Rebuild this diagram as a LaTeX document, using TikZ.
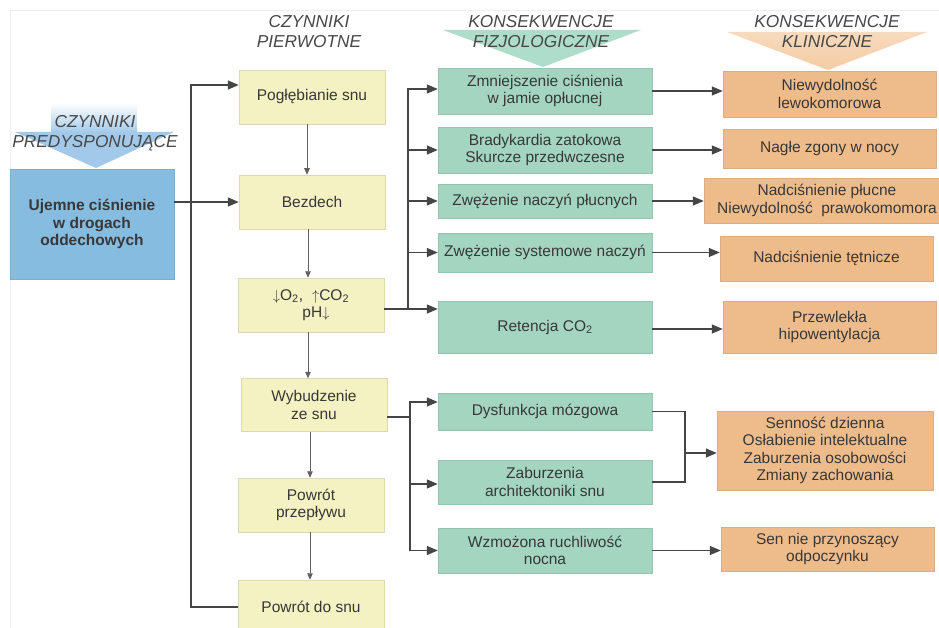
\documentclass[tikz,border=0pt]{standalone}
\usepackage{fontspec}
\setmainfont{Liberation Sans}
\usetikzlibrary{arrows.meta}
\definecolor{bluebox}{HTML}{86BCE0}
\definecolor{bluehdr}{HTML}{A2C9E9}
\definecolor{yel}{HTML}{F4F1C2}
\definecolor{grn}{HTML}{A3D5C1}
\definecolor{grnhdr}{HTML}{AEDDCB}
\definecolor{org}{HTML}{EEBC8B}
\definecolor{orghdr}{HTML}{F4CBA2}
\definecolor{txt}{HTML}{383838}
\definecolor{hdrtxt}{HTML}{484848}
\definecolor{linec}{HTML}{454545}
\definecolor{framec}{HTML}{EEEEEE}
\begin{document}
\begin{tikzpicture}[x=1pt,y=-1pt,
  box/.style={rectangle, inner sep=0pt, align=center, line width=0.5pt, text=txt,
    font=\fontsize{15.5}{17.5}\selectfont},
  bbox/.style={box, fill=bluebox, draw=bluebox!92!black,
    font=\fontsize{15.5}{17.5}\selectfont\bfseries},
  ybox/.style={box, fill=yel, draw=yel!90!black},
  gbox/.style={box, fill=grn, draw=grn!92!black},
  obox/.style={box, fill=org, draw=org!92!black},
  hdr/.style={inner sep=0pt, align=center, text=hdrtxt,
    font=\fontsize{17.3}{20}\selectfont\itshape},
  line/.style={draw=linec, line width=1.3pt},
  arr/.style={line, -{Triangle[length=11pt,width=9pt]}},
  sarr/.style={draw=linec!85, line width=0.9pt, -{Triangle[length=6.5pt,width=5.5pt]}}
]
\clip (0,0) rectangle (939,628);
\fill[white] (0,0) rectangle (939,628);
\draw[framec, line width=0.8pt] (10,628) -- (10,10) -- (939,10);

% header arrows
\shade[top color=white, bottom color=bluehdr] (51,103) rectangle (137,133);
\fill[bluehdr] (15,132) -- (174,132) -- (96,168) -- cycle;
\fill[grnhdr] (443,30) -- (641,30) -- (543,67) -- cycle;
\shade[top color=orghdr!70, bottom color=orghdr] (727,32) -- (927,32) -- (828,70) -- cycle;

\node[hdr] (h1) at (95,133) {CZYNNIKI\\PREDYSPONUJĄCE};
\node[hdr] (h2) at (309,32) {CZYNNIKI\\PIERWOTNE};
\node[hdr] (h3) at (541,32) {KONSEKWENCJE\\FIZJOLOGICZNE};
\node[hdr] (h4) at (827,31.5) {KONSEKWENCJE\\KLINICZNE};

% blue box
\node[bbox, minimum width=164pt, minimum height=110pt] (uj) at (92,224)
  {Ujemne ciśnienie\\w drogach\\oddechowych};

% yellow column
\node[ybox, minimum width=146pt, minimum height=54pt] (pog) at (312,97) {Pogłębianie snu};
\node[ybox, minimum width=146pt, minimum height=54pt] (bez) at (312,202) {Bezdech};
\node[ybox, minimum width=146pt, minimum height=54pt] (gas) at (311,305)
  {{$\downarrow$}O\textsubscript{2},\hspace{9pt}{$\uparrow$}CO\textsubscript{2}\\\hspace*{10pt}pH{$\downarrow$}};
\node[ybox, minimum width=146pt, minimum height=53pt] (wyb) at (314,405) {Wybudzenie\\ze snu};
\node[ybox, minimum width=146pt, minimum height=54pt] (ppr) at (311,505) {Powrót\\przepływu};
\node[ybox, minimum width=146pt, minimum height=54pt] (pds) at (311,607) {Powrót do snu};

% green column
\node[gbox, minimum width=214pt, minimum height=46pt] (g1) at (545,91) {Zmniejszenie ciśnienia\\w jamie opłucnej};
\node[gbox, minimum width=214pt, minimum height=46pt] (g2) at (545,150) {Bradykardia zatokowa\\Skurcze przedwczesne};
\node[gbox, minimum width=214pt, minimum height=34pt] (g3) at (545,201) {Zwężenie naczyń płucnych};
\node[gbox, minimum width=214pt, minimum height=39pt] (g4) at (545,252.5) {Zwężenie systemowe naczyń};
\node[gbox, minimum width=214pt, minimum height=52pt] (g5) at (545,327) {Retencja CO\textsubscript{2}};
\node[gbox, minimum width=214pt, minimum height=37pt] (g6) at (545,411.5) {Dysfunkcja mózgowa};
\node[gbox, minimum width=214pt, minimum height=44pt] (g7) at (545,482) {Zaburzenia\\architektoniki snu};
\node[gbox, minimum width=214pt, minimum height=45pt] (g8) at (545,550.5) {Wzmożona ruchliwość\\nocna};

% orange column
\node[obox, minimum width=213pt, minimum height=46pt] (o1) at (829.5,94) {Niewydolność\\lewokomorowa};
\node[obox, minimum width=213pt, minimum height=39pt] (o2) at (829.5,148.5) {Nagłe zgony w nocy};
\node[obox, minimum width=246pt, minimum height=45pt] (o3) at (827,200.5) {Nadciśnienie płucne\\Niewydolność\ \ prawokomomora};
\node[obox, minimum width=213pt, minimum height=45pt] (o4) at (826.5,258.5) {Nadciśnienie tętnicze};
\node[obox, minimum width=213pt, minimum height=52pt] (o5) at (829.5,327) {Przewlekła\\hipowentylacja};
\node[obox, minimum width=216pt, minimum height=79pt] (o6) at (825,450.5) {Senność dzienna\\Osłabienie intelektualne\\Zaburzenia osobowości\\Zmiany zachowania};
\node[obox, minimum width=213pt, minimum height=44pt] (o7) at (827.5,549) {Sen nie przynoszący\\odpoczynku};

% left connectors
\draw[arr] (uj.east |- bez.west) -- (bez.west);
\coordinate (loop) at (191,85);
\draw[arr] (pds.west) -| (loop) -- ([yshift=12pt]pog.west);

% vertical chain
\draw[sarr] ([xshift=-5pt]pog.south) -- ([xshift=-5pt]bez.north);
\draw[sarr] ([xshift=-4pt]bez.south) -- ([xshift=-4pt]bez.south |- gas.north);
\draw[sarr] ([xshift=-3pt]gas.south) -- ([xshift=-3pt]gas.south |- wyb.north);
\draw[sarr] ([xshift=-1pt]ppr.north |- wyb.south) -- ([xshift=-1pt]ppr.north);
\draw[sarr] ([xshift=-1pt]ppr.south) -- ([xshift=-1pt]pds.north);

% gas branch
\coordinate (gj) at (408,309);
\draw[line] (gas.east |- gj) -- (gj);
\draw[arr] (gj) |- ([yshift=2pt]g1.west);
\draw[arr] (gj) |- (g2.west);
\draw[arr] (gj) |- (g3.west);
\draw[arr] (gj) |- (g4.west);
\draw[arr] (gj) -- (g5.west |- gj);

% green -> orange
\draw[arr] (g1.east) -- (o1.west |- g1.east);
\draw[arr] (g2.east) -- (o2.west |- g2.east);
\draw[arr] (g3.east) -- (o3.west |- g3.east);
\draw[arr] (g4.east) -- (o4.west |- g4.east);
\draw[arr] ([yshift=-2pt]g5.east) -- ([yshift=-2pt]o5.west |- g5.east);

% wybudzenie branch
\coordinate (wj) at (410,417);
\draw[line] (wyb.east |- wj) -- (wj);
\draw[arr] (wj) |- ([yshift=9.5pt]g6.west);
\draw[arr] (wj) |- ([yshift=-2pt]g7.west);
\draw[arr] (wj) |- (g8.west);

% bracket to sennosc
\coordinate (bk) at (685,453);
\draw[line] (g6.east) -| (bk);
\draw[line] (g7.east) -| (bk);
\draw[arr] (bk) -- (o6.west |- bk);
\draw[arr] (g8.east) -- (o7.west |- g8.east);
\end{tikzpicture}
\end{document}
